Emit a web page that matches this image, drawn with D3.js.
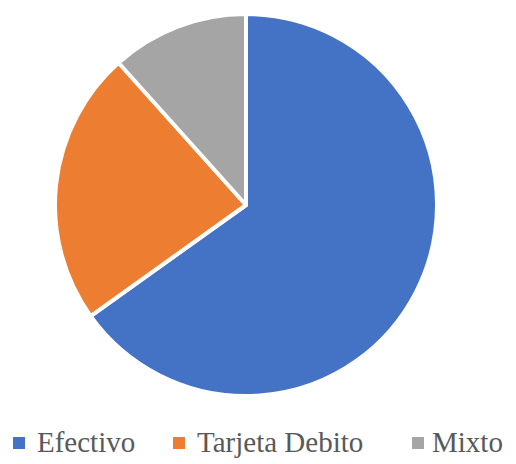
<!DOCTYPE html>
<html>
<head>
<meta charset="utf-8">
<script src="https://cdn.jsdelivr.net/npm/d3@7"></script>
<style>
  body { margin: 0; background: #fff; }
  svg { display: block; }
</style>
</head>
<body>
<div id="chart"></div>
<script>
// data
var categories = ['Efectivo', 'Tarjeta Debito', 'Mixto'];
var values = [56, 20, 10];
var colors = ['#4472c4', '#ed7d31', '#a5a5a5'];

var width = 516,
    height = 464,
    cx = 246,
    cy = 205,
    radius = 191;

var svg = d3.select('#chart').append('svg')
    .attr('width', width)
    .attr('height', height);

var data = categories.map(function (c, i) {
    return { name: c, value: values[i], color: colors[i] };
});

var pie = d3.pie()
    .sort(null)
    .value(function (d) { return d.value; });

var arc = d3.arc()
    .innerRadius(0)
    .outerRadius(radius);

var g = svg.append('g')
    .attr('transform', 'translate(' + cx + ',' + cy + ')');

g.selectAll('path')
    .data(pie(data))
    .enter().append('path')
    .attr('d', arc)
    .attr('fill', function (d) { return d.data.color; })
    .attr('stroke', '#fff')
    .attr('stroke-width', 4)
    .attr('stroke-linejoin', 'round');

// legend
var legendX = [13, 173, 412];
var textGap = [24, 24, 20];
var legend = svg.append('g').attr('class', 'legend');
var items = legend.selectAll('g')
    .data(data)
    .enter().append('g')
    .attr('transform', function (d, i) { return 'translate(' + legendX[i] + ',437)'; });

items.append('rect')
    .attr('width', 12)
    .attr('height', 12)
    .attr('fill', function (d) { return d.color; });

items.append('text')
    .attr('x', function (d, i) { return textGap[i]; })
    .attr('y', 15)
    .style('font-family', 'Liberation Serif, DejaVu Serif, serif')
    .style('font-size', '29px')
    .attr('fill', '#595959')
    .text(function (d) { return d.name; });
</script>
</body>
</html>
